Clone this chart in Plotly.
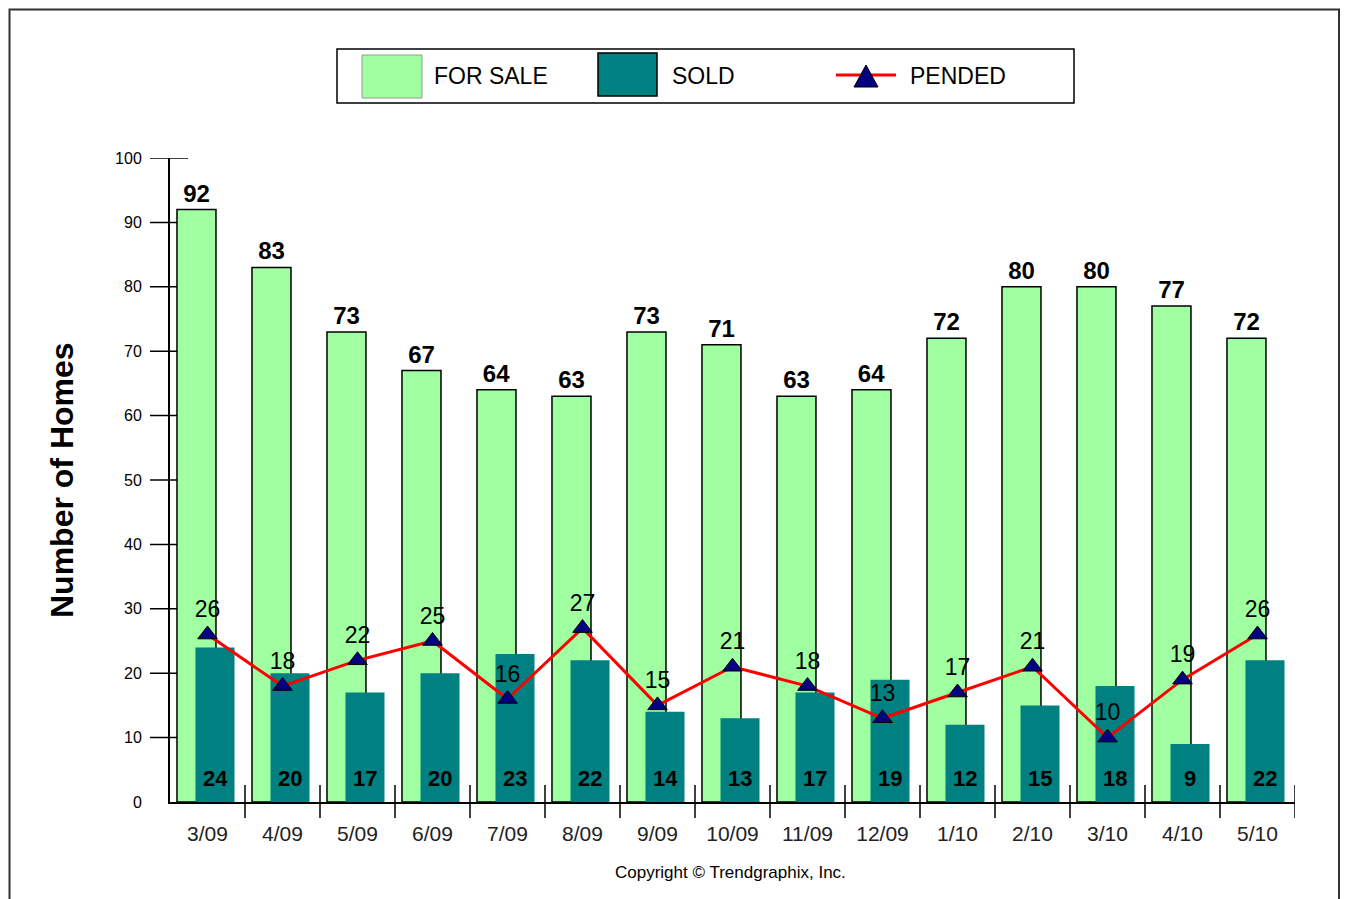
import plotly.graph_objects as go

# ---- data ----
months = ["3/09", "4/09", "5/09", "6/09", "7/09", "8/09", "9/09", "10/09",
          "11/09", "12/09", "1/10", "2/10", "3/10", "4/10", "5/10"]
for_sale = [92, 83, 73, 67, 64, 63, 73, 71, 63, 64, 72, 80, 80, 77, 72]
sold = [24, 20, 17, 20, 23, 22, 14, 13, 17, 19, 12, 15, 18, 9, 22]
pended = [26, 18, 22, 25, 16, 27, 15, 21, 18, 13, 17, 21, 10, 19, 26]
y_ticks = list(range(0, 101, 10))

# ---- layout geometry (page body adds an 8px offset) ----
OFF = 8
W, H = 1349 - OFF, 899 - OFF
L, R, T, B = 170 - OFF, 54, 158 - OFF, 97
PW, PH = W - L - R, H - T - B
FONT = "Liberation Sans, Arial, sans-serif"

GREEN = "#A0FFA0"
TEAL = "#008080"
RED = "#FF0000"
NAVY = "#000080"

BAR_W = 0.52
FS_OFF = -0.407
SOLD_OFF = -0.16


def px(x):
    return (x - OFF - L) / PW


def py(y):
    return (T + PH - (y - OFF)) / PH


fig = go.Figure()

fig.add_bar(
    x=months, y=for_sale, offset=FS_OFF, width=BAR_W,
    marker=dict(color=GREEN, line=dict(color="black", width=1.5)),
    text=[str(v) for v in for_sale], textposition="outside",
    textfont=dict(family=FONT, size=24, color="black", weight="bold"),
    constraintext="none", cliponaxis=False, showlegend=False,
)
fig.add_bar(
    x=months, y=sold, offset=SOLD_OFF, width=BAR_W,
    marker=dict(color=TEAL, line=dict(width=0)),
    showlegend=False,
)
fig.add_scatter(
    x=months, y=pended, mode="lines+markers+text",
    line=dict(color=RED, width=3),
    marker=dict(symbol="triangle-up", size=17, color=NAVY,
                line=dict(color="black", width=1)),
    text=[str(v) for v in pended], textposition="top center",
    textfont=dict(family=FONT, size=23, color="black"),
    cliponaxis=False, showlegend=False,
)

annotations = []
shapes = []

# sold value labels near the bottom of each sold bar
for i, s in enumerate(sold):
    annotations.append(dict(
        x=i + SOLD_OFF + BAR_W / 2, y=0, xref="x", yref="y",
        text=str(s), showarrow=False, yanchor="middle", yshift=24,
        font=dict(family=FONT, size=22, color="black", weight="bold"),
    ))

# y tick marks crossing the axis
for v in y_ticks[1:]:
    shapes.append(dict(type="line", xref="paper", yref="y",
                       x0=-20 / PW, x1=18 / PW, y0=v, y1=v,
                       line=dict(color="black", width=1.5), layer="below"))

# x tick marks at category boundaries, crossing the axis
for i in range(len(months)):
    shapes.append(dict(type="line", xref="x", yref="paper",
                       x0=i + 0.5, x1=i + 0.5, y0=-16 / PH, y1=17 / PH,
                       line=dict(color="black", width=1.5), layer="above"))

# outer frame (kept inside the visible canvas)
shapes.append(dict(type="rect", xref="paper", yref="paper",
                   x0=px(OFF + 1.5), x1=px(1339), y0=py(940), y1=py(OFF + 1.5),
                   line=dict(color="#333333", width=2)))

# legend box
shapes.append(dict(type="rect", xref="paper", yref="paper",
                   x0=px(337), x1=px(1074), y0=py(103), y1=py(49),
                   line=dict(color="black", width=1.5), fillcolor="white"))
shapes.append(dict(type="rect", xref="paper", yref="paper",
                   x0=px(362), x1=px(422), y0=py(98), y1=py(55),
                   line=dict(color="#999999", width=1), fillcolor=GREEN))
shapes.append(dict(type="rect", xref="paper", yref="paper",
                   x0=px(598), x1=px(657), y0=py(96), y1=py(53),
                   line=dict(color="black", width=1.5), fillcolor=TEAL))
shapes.append(dict(type="line", xref="paper", yref="paper",
                   x0=px(836), x1=px(896), y0=py(75), y1=py(75),
                   line=dict(color=RED, width=3)))
tri = "M {} {} L {} {} L {} {} Z".format(px(854), py(87), px(878), py(87), px(866), py(65))
shapes.append(dict(type="path", xref="paper", yref="paper", path=tri,
                   fillcolor=NAVY, line=dict(color="black", width=1)))

for label, xx in (("FOR SALE", 432), ("SOLD", 670), ("PENDED", 908)):
    annotations.append(dict(
        x=px(xx), y=py(76), xref="paper", yref="paper", text=label,
        showarrow=False, xanchor="left", yanchor="middle",
        font=dict(family=FONT, size=23, color="black"),
    ))

# axis title
annotations.append(dict(
    x=px(62), y=py(480), xref="paper", yref="paper", text="Number of Homes",
    showarrow=False, textangle=-90, xanchor="center", yanchor="middle",
    font=dict(family=FONT, size=32, color="black", weight="bold"),
))

# copyright
annotations.append(dict(
    x=px(730), y=py(872), xref="paper", yref="paper",
    text="Copyright © Trendgraphix, Inc.", showarrow=False,
    xanchor="center", yanchor="middle",
    font=dict(family=FONT, size=17, color="black"),
))

fig.update_layout(
    width=W, height=H,
    margin=dict(l=L, r=R, t=T, b=B, pad=0),
    paper_bgcolor="white", plot_bgcolor="white",
    barmode="overlay",
    shapes=shapes, annotations=annotations,
    font=dict(family=FONT, color="black"),
    xaxis=dict(
        type="category", range=[-0.5, len(months) - 0.5],
        showline=True, linecolor="black", linewidth=2,
        showgrid=False, zeroline=False, ticks="",
        tickfont=dict(family=FONT, size=21, color="#222222"),
        ticklabelstandoff=12,
    ),
    yaxis=dict(
        range=[0, 100], tickvals=y_ticks,
        showline=True, linecolor="black", linewidth=2,
        showgrid=False, zeroline=False, ticks="",
        tickfont=dict(family=FONT, size=16, color="black"),
        ticklabelstandoff=23,
    ),
)

fig.write_html("out.html")
